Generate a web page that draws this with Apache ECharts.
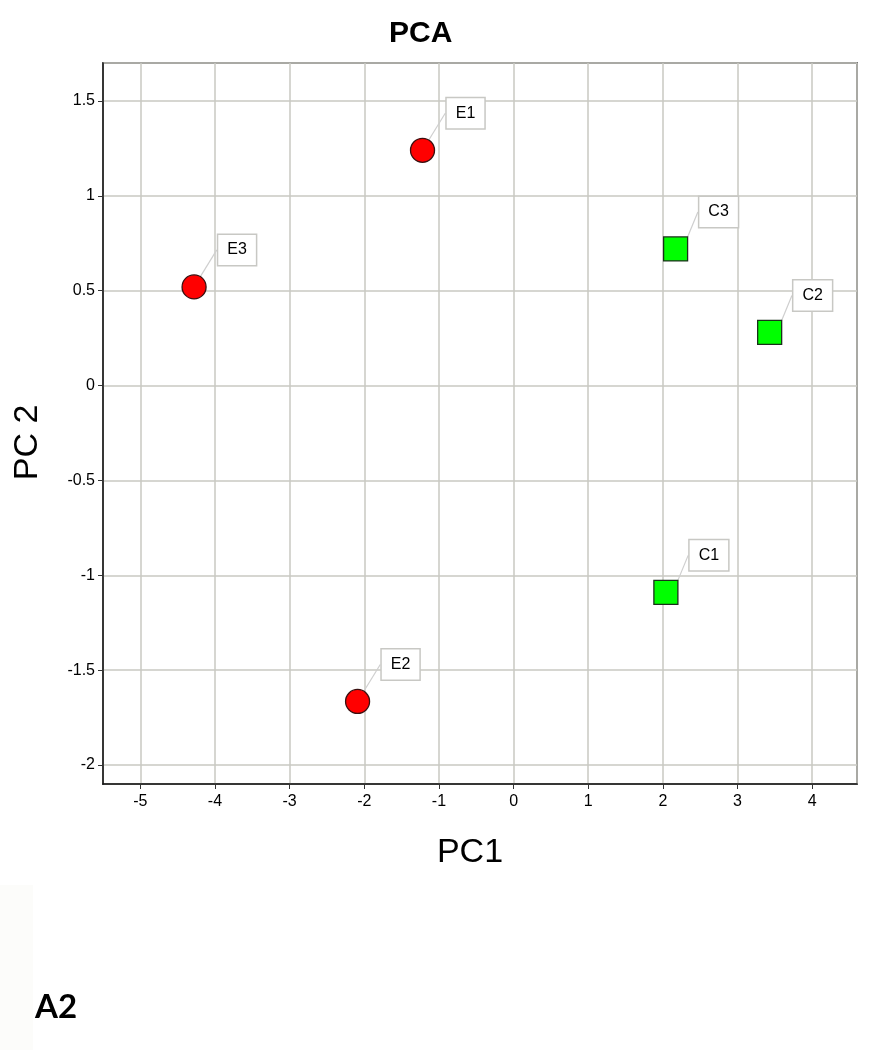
<!DOCTYPE html>
<html>
<head>
<meta charset="utf-8">
<script src="https://cdn.jsdelivr.net/npm/echarts@6/dist/echarts.min.js"></script>
<style>
html,body{margin:0;padding:0;background:#fff;}
#container{width:873px;height:1050px;}
</style>
</head>
<body>
<div id="container"></div>
<script>
// sample names and PCA scores
var expNames = ['E1', 'E2', 'E3'];
var expPC1 = [-1.22, -2.09, -4.28];
var expPC2 = [1.24, -1.665, 0.52];

var ctlNames = ['C1', 'C2', 'C3'];
var ctlPC1 = [2.04, 3.43, 2.17];
var ctlPC2 = [-1.09, 0.28, 0.72];

function pts(names, xs, ys) {
	var out = [];
	for (var i = 0; i < names.length; i++) {
		out.push({ name: names[i], value: [xs[i], ys[i]] });
	}
	return out;
}

var dom = document.getElementById("container");
var myChart = echarts.init(dom);

var tagLabel = {
	show: true,
	position: 'inside',
	formatter: '{b}',
	color: '#000',
	fontFamily: 'Liberation Sans, Arial, sans-serif',
	fontSize: 16,
	backgroundColor: '#fff',
	borderColor: '#c8c8c4',
	borderWidth: 1.5,
	padding: [7, 9, 7, 9]
};

var option = {
	animation: false,
	backgroundColor: '#fff',
	title: {
		text: 'PCA',
		left: 384,
		top: 14,
		textStyle: {
			fontFamily: 'Liberation Sans, Arial, sans-serif',
			fontSize: 30,
			fontWeight: 'bold',
			color: '#000'
		}
	},
	grid: {
		left: 103,
		top: 63,
		right: 16,
		bottom: 266,
		show: true,
		borderColor: '#111',
		borderWidth: 1.5
	},
	xAxis: {
		type: 'value',
		min: -5.5,
		max: 4.6,
		splitNumber: 10,
		minInterval: 1,
		maxInterval: 1,
		name: 'PC1',
		nameLocation: 'middle',
		nameGap: 52,
		nameTextStyle: {
			fontFamily: 'Liberation Sans, Arial, sans-serif',
			fontSize: 34,
			color: '#000',
			padding: [0, 20, 0, 0]
		},
		axisLine: { show: true, onZero: false, lineStyle: { color: '#111', width: 1.5 } },
		axisTick: { show: true, length: 5, lineStyle: { color: '#333' } },
		axisLabel: {
			showMinLabel: false,
			showMaxLabel: false,
			margin: 10,
			color: '#000',
			fontSize: 16,
			fontFamily: 'Liberation Sans, Arial, sans-serif'
		},
		splitLine: { show: true, lineStyle: { color: '#c8c8c2', width: 1.5 } }
	},
	yAxis: {
		type: 'value',
		min: -2.1,
		max: 1.7,
		splitNumber: 8,
		minInterval: 0.5,
		maxInterval: 0.5,
		name: 'PC 2',
		nameLocation: 'middle',
		nameGap: 58,
		nameTextStyle: {
			fontFamily: 'Liberation Sans, Arial, sans-serif',
			fontSize: 34,
			color: '#000',
			padding: [0, 38, 0, 0]
		},
		axisLine: { show: true, onZero: false, lineStyle: { color: '#111', width: 1.5 } },
		axisTick: { show: true, length: 5, lineStyle: { color: '#333' } },
		axisLabel: {
			showMinLabel: false,
			showMaxLabel: false,
			margin: 8,
			color: '#000',
			fontSize: 16,
			fontFamily: 'Liberation Sans, Arial, sans-serif'
		},
		splitLine: { show: true, lineStyle: { color: '#c8c8c2', width: 1.5 } }
	},
	series: [{
			name: 'E',
			type: 'scatter',
			symbol: 'circle',
			symbolSize: 24,
			itemStyle: { color: '#ff0000', borderColor: '#3a1010', borderWidth: 1.3, opacity: 1 },
			label: tagLabel,
			labelLine: { show: true, lineStyle: { color: '#cfcfcf', width: 1.2 } },
			labelLayout: { dx: 43, dy: -37 },
			data: pts(expNames, expPC1, expPC2)
		},
		{
			name: 'C',
			type: 'scatter',
			symbol: 'rect',
			symbolSize: 24,
			itemStyle: { color: '#00ff00', borderColor: '#1a301a', borderWidth: 1.3, opacity: 1 },
			label: tagLabel,
			labelLine: { show: true, lineStyle: { color: '#cfcfcf', width: 1.2 } },
			labelLayout: { dx: 43, dy: -37 },
			data: pts(ctlNames, ctlPC1, ctlPC2)
		}
	],
	graphic: [{
			type: 'rect',
			left: 0,
			top: 885,
			shape: { width: 33, height: 165 },
			style: { fill: '#fcfcfa' }
		},
		{
			type: 'text',
			left: 35,
			top: 991,
			style: {
				text: 'A2',
				fill: '#000',
				font: 'bold 33px Lato, "Open Sans", sans-serif'
			}
		}
	]
};
myChart.setOption(option, true);
</script>
</body>
</html>
